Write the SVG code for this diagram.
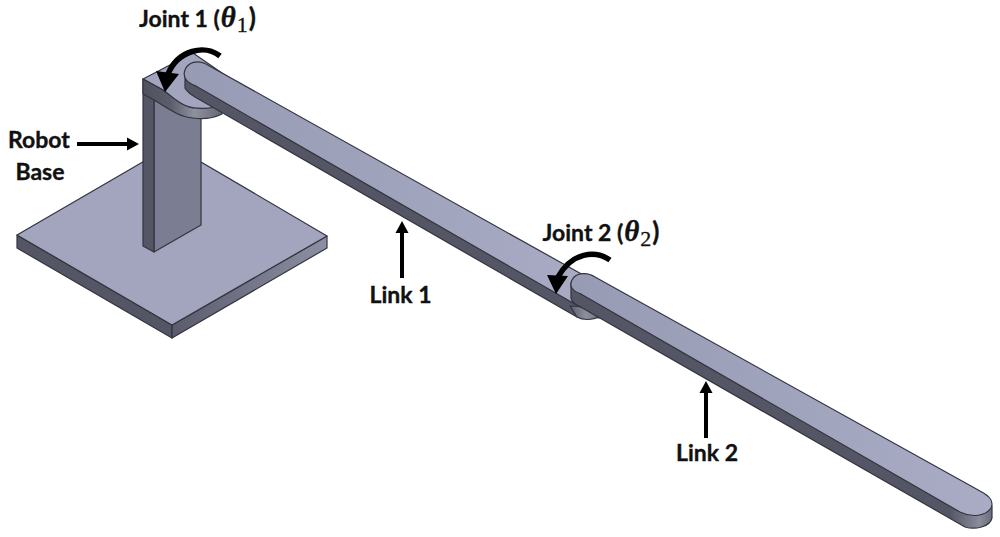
<svg xmlns="http://www.w3.org/2000/svg" width="1000" height="537" viewBox="0 0 1000 537">
<style>
.e{stroke:#33343f;stroke-width:1.2;stroke-linejoin:round}
.top{fill:#a2a5bd}
.side{fill:#555665}
.t{font-family:Lato,"Open Sans","Liberation Sans",sans-serif;font-weight:700;font-size:23px;fill:#111;stroke:#111;stroke-width:.35;text-anchor:middle}
.m{font-family:"Liberation Serif",serif;font-style:italic;font-weight:700}
.s{font-family:"Liberation Serif",serif;font-weight:400}
.a{fill:none;stroke:#000;stroke-width:4}
.c{fill:none;stroke:#000;stroke-width:5.5}
.h{fill:#000}
</style>
<defs>
<linearGradient id="pr" x1="0" x2="1" y1="0" y2="0"><stop offset="0" stop-color="#5a5b6c"/><stop offset="1" stop-color="#8d8fa4"/></linearGradient>
<linearGradient id="tp" x1="0" x2="1" y1="0" y2="0"><stop offset="0" stop-color="#989bb4"/><stop offset=".5" stop-color="#a0a3bc"/><stop offset="1" stop-color="#a9acc4"/></linearGradient>
<linearGradient id="hd" gradientUnits="userSpaceOnUse" x1="143" x2="222" y1="0" y2="0"><stop offset="0" stop-color="#50515f"/><stop offset=".35" stop-color="#5c5d6c"/><stop offset=".65" stop-color="#90919f"/><stop offset="1" stop-color="#666775"/></linearGradient>
<linearGradient id="hd2" gradientUnits="userSpaceOnUse" x1="570" x2="602" y1="0" y2="0"><stop offset="0" stop-color="#5c5d6c"/><stop offset=".5" stop-color="#8f909f"/><stop offset="1" stop-color="#6a6b79"/></linearGradient>
<linearGradient id="ln" gradientUnits="userSpaceOnUse" x1="571" x2="992" y1="0" y2="0"><stop offset="0" stop-color="#555665"/><stop offset=".9" stop-color="#555665"/><stop offset=".97" stop-color="#8a8b9c"/><stop offset="1" stop-color="#6c6d7c"/></linearGradient>
</defs>
<rect width="1000" height="537" fill="#fff"/>
<g id="robot-base">
<path class="e side" d="M17 235V248L172 338V325Z"/>
<path class="e" fill="url(#pr)" d="M172 325V338L327 248V236Z"/>
<path class="e top" d="M17 235L172 145L327 236L172 325Z"/>
<path class="e" fill="#7b7d92" d="M154 100V252L201 225V112L175 108Z"/>
<path class="e side" d="M143 79V246L154 252V100Z"/>
<path class="e top" d="M143 79L193 53L232 80V105C210 110 190 110 180 103C172 98 168 93 163 90Z"/>
<path class="e" fill="url(#hd)" d="M143 79L163 90C172 97 182 106 193 108C205 109 215 108 222 105V114C212 119 200 119 193 118C180 117 170 110 154 100L143 94Z"/>
</g>
<g id="link-1">
<path class="e side" d="M185 76V88C187 92 190 94 195 97L577 317L600 318V290Z"/>
<path class="e" fill="url(#hd2)" d="M570 306L577 317C582 320 592 321 600 316L604 308Z"/>
<path class="e" fill="url(#tp)" d="M205 63.5C198 60 188 62 185 70C182 78 188 83 195 85.6L580 307L610 290Z"/>
</g>
<g id="link-2">
<path class="e" fill="url(#ln)" d="M571 283V298C572 302 574 304 578 305.5L965 527C975 530 990 527 992 518V506Z"/>
<path class="e" fill="url(#tp)" d="M595 277C588 272 576 272 572 280C569 286 572 291 580 293.5L960 512C972 518 986 516 991 508C994 502 990 496 980 491Z"/>
</g>
<g id="connectors">
<path class="c" d="M220 56C205 44 178 50 168 74"/>
<path class="h" d="M156 71L179 74L165 92Z"/>
<path class="a" d="M77 144H128"/>
<path class="h" d="M127 137.500L139 144L127 150.500Z"/>
<path class="a" d="M402 278V232"/>
<path class="h" d="M395.500 233L402 221L408.500 233Z"/>
<path class="c" d="M610 260C595 250 572 252 558 277"/>
<path class="h" d="M547 275L568 276L556 294Z"/>
<path class="a" d="M706 438V392"/>
<path class="h" d="M699.500 393L706 381L712.500 393Z"/>
</g>
<g id="labels">
<text class="t" x="197.500" y="27">Joint 1 (<tspan class="m" font-size="29" dx="1">θ</tspan><tspan class="s" font-size="22" dy="5" dx="1">1</tspan><tspan dy="-5" dx="1" font-size="26">)</tspan></text>
<text class="t" x="39" y="148">Robot</text>
<text class="t" x="40" y="180">Base</text>
<text class="t" x="400.500" y="303">Link 1</text>
<text class="t" x="601" y="241">Joint 2 (<tspan class="m" font-size="29" dx="1">θ</tspan><tspan class="s" font-size="22" dy="5" dx="1">2</tspan><tspan dy="-5" dx="1" font-size="26">)</tspan></text>
<text class="t" x="707" y="461">Link 2</text>
</g>
</svg>
